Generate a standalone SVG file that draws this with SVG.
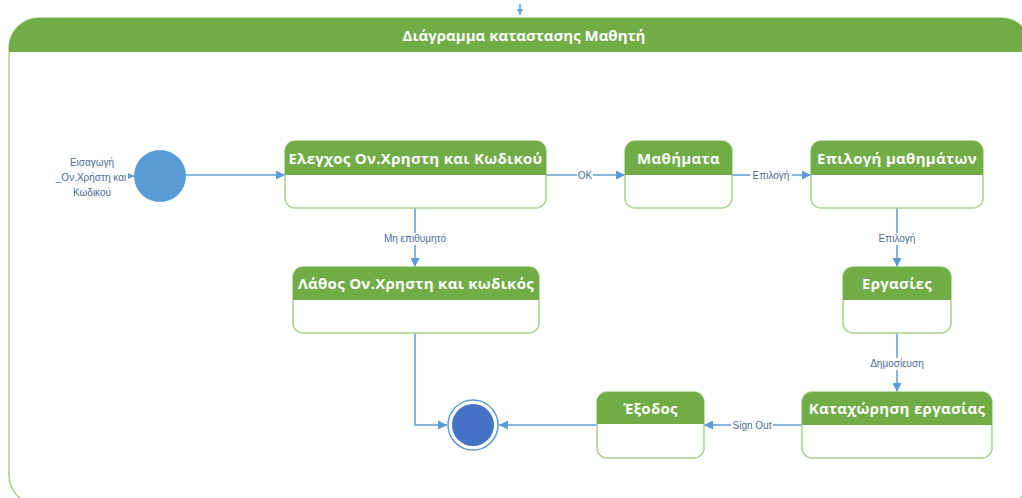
<svg xmlns="http://www.w3.org/2000/svg" width="1022" height="498" viewBox="0 0 1022 498">
  <defs>
    <marker id="arrow" viewBox="0 0 10 10" refX="10" refY="5" markerWidth="9" markerHeight="9" markerUnits="userSpaceOnUse" orient="auto">
      <path d="M0,0 L10,5 L0,10 Z" fill="#5b9bd5"/>
    </marker>
    <marker id="arrow-sm" viewBox="0 0 10 10" refX="10" refY="5" markerWidth="6" markerHeight="6" markerUnits="userSpaceOnUse" orient="auto">
      <path d="M0,0 L10,5 L0,10 Z" fill="#5b9bd5"/>
    </marker>
  </defs>
  <style>
    .frame { fill: #ffffff; stroke: #a9d18e; stroke-width: 1.5; }
    .head { fill: #70ad47; }
    .body { fill: #ffffff; stroke: #a9d18e; stroke-width: 1.5; }
    .title { font-family: "Open Sans", "Liberation Sans", sans-serif; font-weight: bold; font-size: 15px; fill: #ffffff; text-anchor: middle; }
    .ntitle { font-family: "Open Sans", "Liberation Sans", sans-serif; font-weight: bold; font-size: 15px; fill: #ffffff; text-anchor: middle; letter-spacing: 0.3px; }
    .edge { fill: none; stroke: #5b9bd5; stroke-width: 1.5; }
    .lbl { font-family: "Liberation Sans", "Open Sans", sans-serif; font-size: 10px; fill: #4a6b9a; text-anchor: middle; }
    .lblbg { fill: #ffffff; }
  </style>

  <rect width="1022" height="498" fill="#ffffff"/>

  <!-- state machine frame -->
  <g id="frame">
    <rect class="frame" x="9" y="18" width="1022" height="487" rx="30" ry="30"/>
    <path class="head" d="M9,52 V48 A30,30 0 0 1 39,18 H1001 A30,30 0 0 1 1031,48 V52 Z"/>
    <text class="title" x="524" y="41">Διάγραμμα καταστασης Μαθητή</text>
  </g>

  <!-- connectors -->
  <g id="connectors">
    <line class="edge" x1="520" y1="4" x2="520" y2="15" marker-end="url(#arrow-sm)"/>
    <line class="edge" x1="128" y1="176" x2="134" y2="176" marker-end="url(#arrow-sm)"/>
    <line class="edge" x1="186" y1="175" x2="285" y2="175" marker-end="url(#arrow)"/>

    <line class="edge" x1="546" y1="175" x2="625" y2="175" marker-end="url(#arrow)"/>
    <rect class="lblbg" x="577" y="169" width="16" height="12"/>
    <text class="lbl" x="585" y="179">OK</text>

    <line class="edge" x1="732" y1="175" x2="811" y2="175" marker-end="url(#arrow)"/>
    <rect class="lblbg" x="750" y="169" width="42" height="12"/>
    <text class="lbl" x="771" y="179">Επιλογή</text>

    <line class="edge" x1="897" y1="208" x2="897" y2="267" marker-end="url(#arrow)"/>
    <rect class="lblbg" x="876" y="233" width="42" height="12"/>
    <text class="lbl" x="897" y="242">Επιλογή</text>

    <line class="edge" x1="415" y1="208" x2="415" y2="267" marker-end="url(#arrow)"/>
    <rect class="lblbg" x="380" y="233" width="70" height="12"/>
    <text class="lbl" x="415" y="242">Μη επιθυμητό</text>

    <line class="edge" x1="897" y1="333" x2="897" y2="392" marker-end="url(#arrow)"/>
    <rect class="lblbg" x="867" y="358" width="60" height="12"/>
    <text class="lbl" x="897" y="367">Δημοσίευση</text>

    <line class="edge" x1="802" y1="425" x2="704" y2="425" marker-end="url(#arrow)"/>
    <rect class="lblbg" x="731" y="419" width="42" height="12"/>
    <text class="lbl" x="752" y="429">Sign Out</text>

    <line class="edge" x1="597" y1="425" x2="499" y2="425" marker-end="url(#arrow)"/>
    <polyline class="edge" points="415,333 415,425 447,425" marker-end="url(#arrow)"/>
  </g>

  <!-- initial state -->
  <g id="start">
    <circle cx="160" cy="176" r="26" fill="#5b9bd5"/>
    <text class="lbl" font-size="11" x="92" y="166">Εισαγωγή</text>
    <text class="lbl" font-size="11" x="91" y="181">_Ον.Χρήστη και</text>
    <text class="lbl" font-size="11" x="92" y="196">Κωδικού</text>
  </g>

  <g id="check">
    <rect class="body" x="285" y="141" width="261" height="67" rx="10"/>
    <path class="head" d="M285,175 V151 A10,10 0 0 1 295,141 H536 A10,10 0 0 1 546,151 V175 Z"/>
    <text class="ntitle" x="415.5" y="164">Ελεγχος Ον.Χρηστη και Κωδικού</text>
  </g>

  <g id="courses">
    <rect class="body" x="625" y="141" width="107" height="67" rx="10"/>
    <path class="head" d="M625,175 V151 A10,10 0 0 1 635,141 H722 A10,10 0 0 1 732,151 V175 Z"/>
    <text class="ntitle" x="678.5" y="164">Μαθήματα</text>
  </g>

  <g id="course-select">
    <rect class="body" x="811" y="141" width="172" height="67" rx="10"/>
    <path class="head" d="M811,175 V151 A10,10 0 0 1 821,141 H973 A10,10 0 0 1 983,151 V175 Z"/>
    <text class="ntitle" x="897" y="164">Επιλογή μαθημάτων</text>
  </g>

  <g id="login-error">
    <rect class="body" x="293" y="267" width="246" height="66" rx="10"/>
    <path class="head" d="M293,300 V277 A10,10 0 0 1 303,267 H529 A10,10 0 0 1 539,277 V300 Z"/>
    <text class="ntitle" x="416" y="289">Λάθος Ον.Χρηστη και κωδικός</text>
  </g>

  <g id="assignments">
    <rect class="body" x="843" y="267" width="108" height="66" rx="10"/>
    <path class="head" d="M843,300 V277 A10,10 0 0 1 853,267 H941 A10,10 0 0 1 951,277 V300 Z"/>
    <text class="ntitle" x="897" y="289">Εργασίες</text>
  </g>

  <g id="submit">
    <rect class="body" x="802" y="392" width="190" height="66" rx="10"/>
    <path class="head" d="M802,425 V402 A10,10 0 0 1 812,392 H982 A10,10 0 0 1 992,402 V425 Z"/>
    <text class="ntitle" x="897" y="414">Καταχώρηση εργασίας</text>
  </g>

  <g id="exit">
    <rect class="body" x="597" y="392" width="107" height="66" rx="10"/>
    <path class="head" d="M597,424 V402 A10,10 0 0 1 607,392 H694 A10,10 0 0 1 704,402 V424 Z"/>
    <text class="ntitle" x="650.5" y="414">Έξοδος</text>
  </g>

  <!-- final state -->
  <g id="end">
    <circle cx="473" cy="425" r="25" fill="#ffffff" stroke="#5b9bd5" stroke-width="1.5"/>
    <circle cx="473" cy="425" r="21" fill="#4472c4"/>
  </g>
</svg>
